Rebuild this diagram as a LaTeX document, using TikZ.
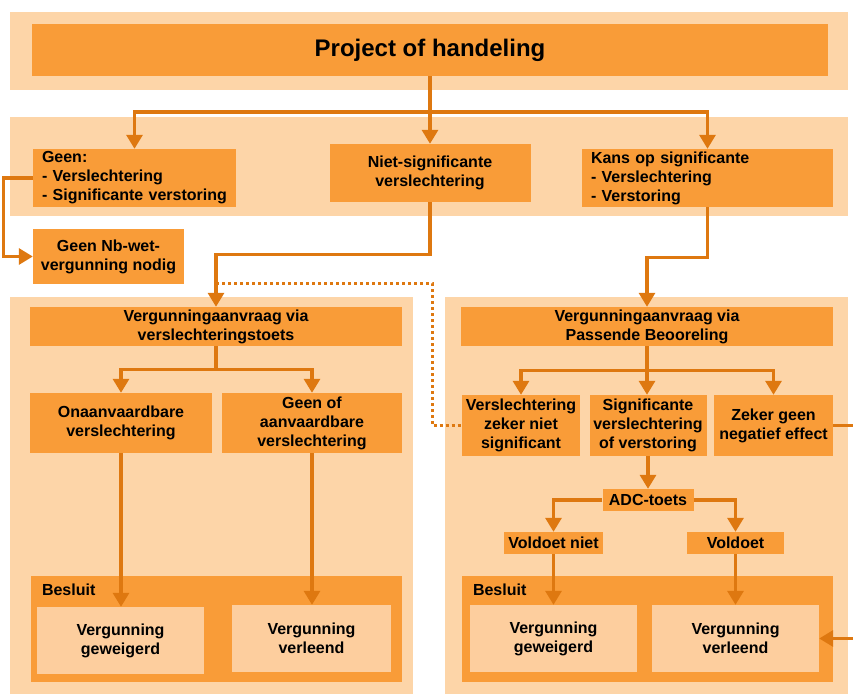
\documentclass[tikz,border=0pt]{standalone}
\usepackage{fontspec}
\setmainfont{Liberation Sans}
\usetikzlibrary{arrows.meta,calc}

\definecolor{boxorange}{RGB}{249,156,56}
\definecolor{bandorange}{RGB}{253,213,168}
\definecolor{innerorange}{RGB}{253,206,158}
\definecolor{lineorange}{RGB}{222,120,16}

\begin{document}
\begin{tikzpicture}[x=1pt,y=-1pt,
  every node/.style={font=\bfseries\fontsize{16}{19}\selectfont, inner sep=0pt},
  band/.style 2 args={fill=bandorange, minimum width=#1, minimum height=#2},
  box/.style 2 args={fill=boxorange, align=center, minimum width=#1, minimum height=#2},
  listbox/.style 2 args={fill=boxorange, align=left, inner xsep=9pt, text width=#1, minimum height=#2},
  innerbox/.style 2 args={fill=innerorange, align=center, minimum width=#1, minimum height=#2},
  conn/.style={draw=lineorange, line width=3.2pt},
  flow/.style={conn, -{Triangle[length=14pt,width=16pt]}},
  dotline/.style={draw=lineorange, line width=3pt, dash pattern=on 3pt off 3pt}]
\useasboundingbox (0,0) rectangle (853,693);

% light bands
\node[band={838pt}{78pt}] (topband) at (429,51) {};
\node[band={838pt}{99pt}] (midband) at (429,166.5) {};
\node[band={403pt}{400pt}] (leftpanel) at (211.5,497) {};
\node[band={403pt}{400pt}] (rightpanel) at (646.5,497) {};

% top
\node[box={796pt}{52pt}, font=\bfseries\fontsize{24}{28}\selectfont] (project) at (430,50) {Project of handeling};

% second row
\node[listbox={185pt}{58pt}] (geen) at (134.5,178) {Geen:\\- Verslechtering\\- Significante verstoring};
\node[box={201pt}{58pt}] (nietsig) at (430,173) {Niet-significante\\verslechtering};
\node[listbox={233pt}{58pt}] (kans) at (707.5,178) {Kans op significante\\- Verslechtering\\- Verstoring};
\node[box={151pt}{55pt}] (nodig) at (108.5,256.5) {Geen Nb-wet-\\vergunning nodig};

% left panel
\node[box={372pt}{39pt}] (vtoets) at (216,326.5) {Vergunningaanvraag via\\verslechteringstoets};
\node[box={182pt}{60pt}] (onaanv) at (121,423) {Onaanvaardbare\\verslechtering};
\node[box={180pt}{60pt}] (aanv) at (312,423) {Geen of\\aanvaardbare\\verslechtering};
\node[box={371pt}{106pt}] (besluitL) at (216.5,629) {};
\node[anchor=north west] (besluitLtxt) at ([xshift=11pt,yshift=-8pt]besluitL.north west) {Besluit};
\node[innerbox={167pt}{67pt}] (weigerL) at (120.5,640.5) {Vergunning\\geweigerd};
\node[innerbox={159pt}{67pt}] (verleendL) at (311.5,638.5) {Vergunning\\verleend};

% right panel
\node[box={372pt}{39pt}] (pb) at (647,326.5) {Vergunningaanvraag via\\Passende Beooreling};
\node[box={118pt}{61pt}] (nietsignif) at (521,425.5) {Verslechtering\\zeker niet\\significant};
\node[box={117pt}{61pt}] (signif) at (648,425.5) {Significante\\verslechtering\\of verstoring};
\node[box={119pt}{61pt}] (geeneffect) at (773.5,425.5) {Zeker geen\\negatief effect};
\node[box={91pt}{22pt}] (adc) at (648,500) {ADC-toets};
\node[box={99pt}{22pt}] (voldoetniet) at (553.5,543) {Voldoet niet};
\node[box={97pt}{22pt}] (voldoet) at (735.5,543) {Voldoet};
\node[box={371pt}{106pt}] (besluitR) at (647.5,629) {};
\node[anchor=north west] (besluitRtxt) at ([xshift=11pt,yshift=-8pt]besluitR.north west) {Besluit};
\node[innerbox={167pt}{67pt}] (weigerR) at (553.5,638.5) {Vergunning\\geweigerd};
\node[innerbox={167pt}{67pt}] (verleendR) at (735.5,638.5) {Vergunning\\verleend};

% connectors
\coordinate (fork1) at (430,112);
\draw[conn] (project.south) -- (fork1);
\draw[flow] (fork1) -| (geen.north);
\draw[flow] (fork1) -- (nietsig.north);
\draw[flow] (fork1) -| (kans.north);
\draw[flow] (geen.west) -- ++(-29,0) |- (nodig.west);
\draw[flow] (nietsig.south) -- ++(0,52) -| (vtoets.north);
\draw[flow] (kans.south) -- ++(0,50) -| (pb.north);
\coordinate (dotstart) at (216,283);
\draw[dotline] (dotstart) -- ++(216,0) |- (nietsignif.west);

\draw[conn] (vtoets.south) -- ++(0,23) coordinate (fork2);
\draw[flow] (fork2) -| (onaanv.north);
\draw[flow] (fork2) -| (aanv.north);
\draw[flow] (onaanv.south) -- (onaanv.south |- weigerL.north);
\draw[flow] (aanv.south) -- (aanv.south |- verleendL.north);

\draw[conn] (pb.south) -- ++(0,24) coordinate (fork3);
\draw[flow] (fork3) -| (nietsignif.north);
\draw[flow] (fork3) -- (fork3 |- signif.north);
\draw[flow] (fork3) -| (geeneffect.north);
\draw[flow] (signif.south) -- (signif.south |- adc.north);
\draw[flow] (adc.west) -| (voldoetniet.north);
\draw[flow] (adc.east) -| (voldoet.north);
\draw[flow] (voldoetniet.south) -- (voldoetniet.south |- weigerR.north);
\draw[flow] (voldoet.south) -- (voldoet.south |- verleendR.north);
\draw[flow] (geeneffect.east) -- ++(25,0) |- (verleendR.east);
\end{tikzpicture}
\end{document}
